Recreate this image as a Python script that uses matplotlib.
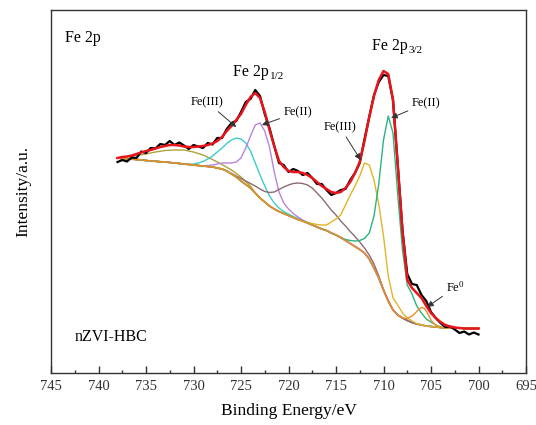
import numpy as np
import matplotlib
matplotlib.use('Agg')
import matplotlib.pyplot as plt
from matplotlib.ticker import MultipleLocator

plt.rcParams['font.family'] = ['Liberation Serif', 'DejaVu Serif']
plt.rcParams['mathtext.fontset'] = 'custom'
plt.rcParams['mathtext.rm'] = 'Liberation Serif'
plt.rcParams['mathtext.it'] = 'Liberation Serif'

# binding energy grid (eV) used by the measured spectrum, envelope and background
energy = [738, 737.5, 737, 736.5, 736, 735.5, 735, 734.5, 734, 733.5,
          733, 732.5, 732, 731.5, 731, 730.5, 730, 729.5, 729, 728.5,
          728, 727.5, 727, 726.5, 726, 725.5, 725, 724.5, 724, 723.5,
          723, 722.5, 722, 721.5, 721, 720.5, 720, 719.5, 719, 718.5,
          718, 717.5, 717, 716.5, 716, 715.5, 715, 714.5, 714, 713.5,
          713, 712.5, 712, 711.5, 711, 710.5, 710, 709.5, 709, 708.5,
          708, 707.5, 707, 706.5, 706, 705.5, 705, 704.5, 704, 703.5,
          703, 702.5, 702, 701.5, 701, 700.5, 700]

raw = [211, 213, 211.5, 215.5, 215, 221.5, 220, 225, 224.5, 229,
       228, 232, 228, 230.5, 227.5, 224, 228, 226.5, 225, 230,
       228.5, 235, 235, 244, 250, 252, 261, 271, 274, 283,
       277, 259, 245, 227, 210, 208, 201, 204, 202, 198,
       200, 195, 189, 189, 183, 178, 180, 183, 184, 193,
       200, 210, 234, 256, 278, 291, 298, 297, 273, 208,
       143, 99, 89, 88, 78, 72, 61, 55, 50, 46,
       46.5, 43.5, 40, 41.5, 38.5, 40.5, 38.5]

envelope = [215, 216, 216.5, 217.5, 219, 220.5, 222, 223, 224.5, 226,
            227, 228, 228, 227.5, 226.5, 226, 226, 226.5, 227, 228,
            229.5, 232, 236, 242, 247, 253, 259, 268, 276, 280,
            275, 261, 243, 227, 212, 206, 202, 201, 201, 200,
            198, 195, 191, 187, 184, 181, 180, 181, 185, 191,
            200, 211, 232, 256, 277, 293, 302, 299, 273, 208,
            141, 93, 85, 80, 75, 67, 60, 55, 51, 48,
            46.5, 45.5, 45, 44.5, 44.5, 44.5, 44.5]

background = [215, 214.5, 214, 213.8, 213.5, 213, 212.5, 212, 211.7, 211.3,
              211, 210.5, 210, 209.5, 209, 208.5, 208, 207.5, 207, 206.5,
              206, 205, 204, 202, 199, 196, 192, 188.5, 185, 180,
              175, 171, 167, 164, 161.5, 159.5, 157.5, 155.5, 153.5, 152,
              150, 148, 146, 144, 142.5, 140, 138, 135.5, 132.5, 129.5,
              126.5, 123.5, 120, 114, 105, 95, 83, 72, 63, 58,
              55, 52.5, 50.5, 49, 48, 47, 46.5, 46, 45.5, 45,
              45, 45, 45, 44.5, 44.5, 44.5, 44.5]

# fitted components, only where they leave the background
sat1_e = [738, 737, 736, 735, 734, 733, 732, 731, 730, 729, 728, 727, 726, 725, 724]
sat1_i = [215, 216, 217.5, 219, 221, 222.5, 223, 223, 221, 218, 213.5, 208.5, 203, 196, 187]

fe3_half_e = [731, 730.5, 730, 729.5, 729, 728.5, 728, 727.5, 727, 726.5,
              726, 725.5, 725, 724.5, 724, 723.5, 723, 722.5, 722, 721.5,
              721, 720.5, 720, 719.5, 719, 718.5, 718]
fe3_half_i = [209, 208.5, 209, 210, 211.5, 214, 217, 221, 225, 229.5,
              233, 235, 234, 230, 222, 210, 198, 187, 177, 170,
              165, 161.5, 159, 156.5, 154.5, 152.5, 150.5]

fe2_half_e = [729, 728.5, 728, 727.5, 727, 726.5, 726, 725.5, 725, 724.5,
              724, 723.5, 723, 722.5, 722, 721.5, 721, 720.5, 720, 719.5,
              719, 718.5, 718]
fe2_half_i = [207, 207.5, 208, 209, 210, 210, 210, 211, 215, 225,
              237, 248, 250, 242, 226, 201, 181, 170, 164, 159.5,
              156, 153, 150.5]

sat2_e = [727, 726.5, 726, 725.5, 725, 724.5, 724, 723.5, 723, 722.5,
          722, 721.5, 721, 720.5, 720, 719.5, 719, 718.5, 718, 717.5,
          717, 716.5, 716, 715.5, 715, 714.5, 714, 713.5, 713, 712.5,
          712, 711.5, 711, 710.5]
sat2_i = [204, 202, 199.5, 197, 194.5, 192, 189.5, 187, 184, 181.5,
          180.5, 181, 183.5, 186, 188, 189.5, 190, 189.5, 188, 185,
          180, 175, 169, 163, 158, 152, 147, 141.5, 136.5, 131,
          125, 118, 109, 97]

fe3_e = [719, 718.5, 718, 717.5, 717, 716.5, 716, 715.5, 715, 714.5,
         714, 713.5, 713, 712.5, 712, 711.5, 711, 710.5, 710, 709.5,
         709, 708.5, 708, 707.5, 707, 706.5, 706]
fe3_i = [153.5, 151.5, 150.5, 149.5, 148.5, 148, 148, 151, 154, 158,
         168, 178, 187, 197, 210, 208, 193, 169, 137, 97,
         75, 68, 60, 55, 52, 49.5, 48]

fe2_e = [715, 714.5, 714, 713.5, 713, 712.5, 712, 711.5, 711, 710.5,
         710, 709.5, 709, 708.5, 708, 707.5, 707, 706.5, 706, 705.5,
         705, 704.5, 704]
fe2_i = [138, 135.5, 133.5, 132.5, 132, 132.5, 134.5, 140, 157, 189,
         233, 257, 240, 178, 123, 88, 79, 67, 60, 54,
         51, 48, 46]

fe0_e = [708, 707.5, 707, 706.75, 706.5, 706.25, 706, 705.75, 705.5, 705.25,
         705, 704.75, 704.5, 704]
fe0_i = [55, 54.5, 57, 59, 61.5, 64, 65.5, 65, 62, 57.5,
         53, 50, 48, 45.5]

energy = np.array(energy)
background = np.array(background)


def with_bg(e_c, i_c):
    # component drawn over the whole range: background outside its own span
    e_c = np.array(e_c)
    left = energy > e_c.max()
    right = energy < e_c.min()
    e = np.concatenate([energy[left], e_c, energy[right]])
    i = np.concatenate([background[left], i_c, background[right]])
    return e, i


def peak_label(x, y, sub):
    t = ax.text(x, y, 'Fe 2p', fontsize=11.5, ha='left', va='center')
    ax.annotate(sub, xy=(1, 0), xycoords=t, xytext=(0.3, -0.5),
                textcoords='offset points', fontsize=8, ha='left', va='bottom')


fig = plt.figure(figsize=(5.36, 4.25), dpi=100)
ax = fig.add_axes([51 / 536, 52 / 425, 475 / 536, 363 / 425])

ax.plot(energy, background, color='#e2653a', lw=1.3)
comps = [(sat1_e, sat1_i, '#aaa43c'),
         (fe3_half_e, fe3_half_i, '#3ccccc'),
         (fe2_half_e, fe2_half_i, '#b883e0'),
         (sat2_e, sat2_i, '#8c6b70'),
         (fe3_e, fe3_i, '#e3b425'),
         (fe2_e, fe2_i, '#2bb57c'),
         (fe0_e, fe0_i, '#f08c28')]
for e_c, i_c, col in comps:
    e, i = with_bg(e_c, i_c)
    ax.plot(e, i, color=col, lw=1.0)

ax.plot(energy, raw, color='black', lw=1.6)
ax.plot(energy, envelope, color='#e8141c', lw=1.8)

ax.set_xlim(745, 695)
ax.set_ylim(0, 363)
ax.set_yticks([])
ax.xaxis.set_major_locator(MultipleLocator(5))
ax.xaxis.set_minor_locator(MultipleLocator(2.5))
ax.tick_params(axis='x', which='major', direction='in', length=5, width=1,
               labelsize=10.5, pad=5, colors='#333333')
ax.tick_params(axis='x', which='minor', direction='in', length=2.5, width=1,
               colors='#333333')
for s in ax.spines.values():
    s.set_color('#333333')
    s.set_linewidth(1.0)

ax.set_xlabel('Binding Energy/eV', fontsize=12.5, labelpad=7)
ax.set_ylabel('Intensity/a.u.', fontsize=12.5, labelpad=14)

ax.text(743.5, 335, 'Fe 2p', fontsize=11.5, ha='left', va='center')
ax.text(742.5, 36, 'nZVI-HBC', fontsize=11.5, ha='left', va='center')
peak_label(725.8, 301, '1/2')
peak_label(711.2, 327, '3/2')

arrow = dict(arrowstyle='-|>', color='#333333', lw=0.7, mutation_scale=9,
             shrinkA=1, shrinkB=0)
ax.annotate('Fe(III)', xy=(725.5, 246), xytext=(728.6, 271), fontsize=9,
            ha='center', va='center', arrowprops=arrow)
ax.annotate('Fe(II)', xy=(722.8, 248), xytext=(719.0, 261), fontsize=9,
            ha='center', va='center', arrowprops=arrow)
ax.annotate('Fe(III)', xy=(712.4, 213), xytext=(714.6, 246), fontsize=9,
            ha='center', va='center', arrowprops=arrow)
ax.annotate('Fe(II)', xy=(709.2, 255), xytext=(705.5, 270), fontsize=9,
            ha='center', va='center', arrowprops=arrow)
ax.annotate(r'Fe$^0$', xy=(705.4, 66), xytext=(702.4, 86), fontsize=9,
            ha='center', va='center', arrowprops=arrow)

fig.savefig('out.png', dpi=100)
